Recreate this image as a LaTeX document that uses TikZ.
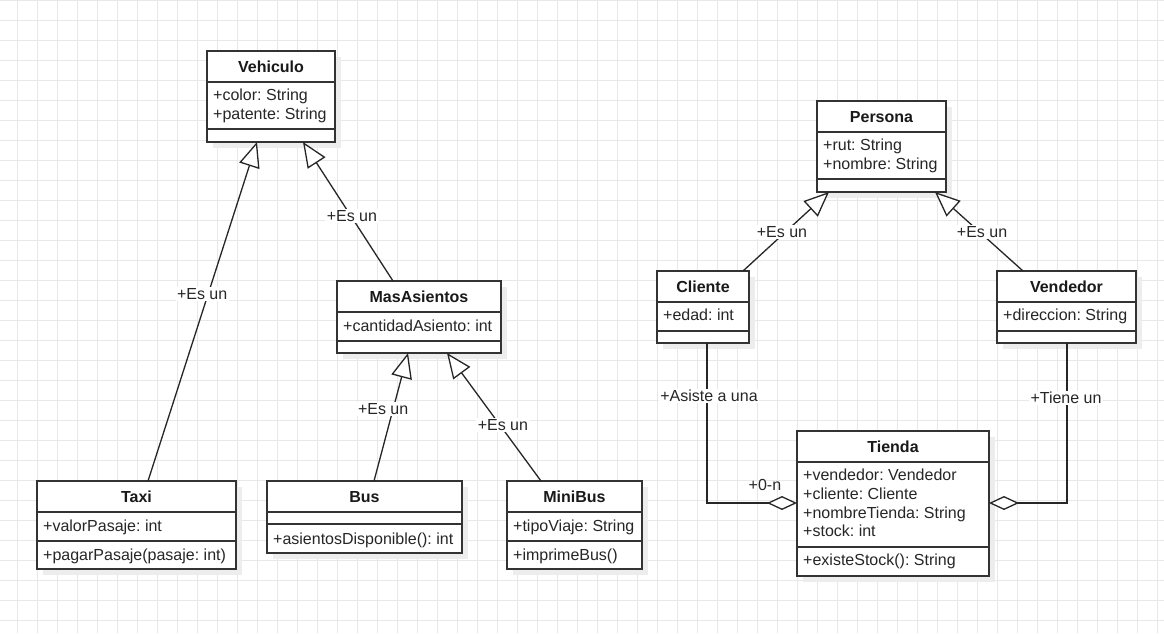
\documentclass[tikz,border=0pt]{standalone}
\usepackage{fontspec}
\setmainfont{Liberation Sans}
\frenchspacing
\usetikzlibrary{arrows.meta,calc}
\tikzset{
  gridline/.style={draw=black!9, line width=1pt},
  clsbox/.style={draw=black!80, line width=1.3pt, fill=white, inner sep=0pt, outer sep=0pt},
  sepline/.style={draw=black!80, line width=1.3pt},
  shadowc/.style={fill=black!7},
  ttl/.style={font=\frenchspacing\bfseries\fontsize{16}{19}\selectfont, text=black!90, inner sep=0pt, text height=11.5pt, text depth=0pt},
  attr/.style={font=\frenchspacing\fontsize{16}{19}\selectfont, text=black!85, anchor=west, inner sep=0pt, text height=11.5pt, text depth=0pt},
  conn/.style={draw=black!85, line width=1.3pt},
  gen/.style={conn, -{Triangle[length=25pt,width=21pt,fill=white]}},
  agg/.style={conn, -{Diamond[length=30pt,width=14pt,fill=white]}},
  lbl/.style={font=\frenchspacing\fontsize{16}{19}\selectfont, fill=white, inner sep=1.5pt, text=black!85, text height=11.5pt, text depth=0pt},
  lblnf/.style={font=\frenchspacing\fontsize{16}{19}\selectfont, inner sep=1.5pt, text=black!85, text height=11.5pt, text depth=0pt},
}
\newcommand{\clsbox}[5]{%
  \fill[shadowc] (#2+6,#3+6) rectangle ++(#4,#5);
  \node[clsbox, minimum width=#4pt, minimum height=#5pt, anchor=north west] (#1) at (#2,#3) {};
}
\newcommand{\sepl}[2]{%
  \draw[sepline] ($(#1.north west)+(0,#2)$) -- ($(#1.north east)+(0,#2)$);
}
\newcommand{\ttlnode}[2]{%
  \node[ttl] at ($(#1.north)+(0,15.5)$) {#2};
}
\newcommand{\attrnode}[3]{%
  \node[attr] at ($(#1.north west)+(6,#2)$) {#3};
}
\begin{document}
\begin{tikzpicture}[x=1pt,y=-1pt]
\useasboundingbox (0,0) rectangle (1164,633);
\fill[white] (0,0) rectangle (1164,633);
\foreach \x in {17,37,...,1164} \draw[gridline] (\x,0) -- (\x,633);
\foreach \y in {0,20,...,633} \draw[gridline] (0,\y) -- (1164,\y);

% Vehiculo
\clsbox{veh}{207}{51}{128}{91}
\sepl{veh}{31}\sepl{veh}{78}
\ttlnode{veh}{Vehiculo}
\attrnode{veh}{44}{+color: String}
\attrnode{veh}{63}{+patente: String}

% MasAsientos
\clsbox{mas}{337}{281}{164}{72}
\sepl{mas}{31}\sepl{mas}{60}
\ttlnode{mas}{MasAsientos}
\attrnode{mas}{45}{+cantidadAsiento: int}

% Taxi
\clsbox{taxi}{37}{481}{199}{88}
\sepl{taxi}{31}\sepl{taxi}{60}
\ttlnode{taxi}{Taxi}
\attrnode{taxi}{45}{+valorPasaje: int}
\attrnode{taxi}{74}{+pagarPasaje(pasaje: int)}

% Bus
\clsbox{bus}{267}{481}{195}{72}
\sepl{bus}{31}\sepl{bus}{43}
\ttlnode{bus}{Bus}
\attrnode{bus}{58}{+asientosDisponible(): int}

% MiniBus
\clsbox{mini}{507}{481}{135}{88}
\sepl{mini}{31}\sepl{mini}{60}
\ttlnode{mini}{MiniBus}
\attrnode{mini}{45}{+tipoViaje: String}
\attrnode{mini}{74}{+imprimeBus()}

% Persona
\clsbox{per}{817}{101}{129}{91}
\sepl{per}{31}\sepl{per}{78}
\ttlnode{per}{Persona}
\attrnode{per}{44}{+rut: String}
\attrnode{per}{63}{+nombre: String}

% Cliente
\clsbox{cli}{657}{271}{92}{72}
\sepl{cli}{31}\sepl{cli}{60}
\ttlnode{cli}{Cliente}
\attrnode{cli}{44}{+edad: int}

% Vendedor
\clsbox{ven}{997}{271}{139}{72}
\sepl{ven}{31}\sepl{ven}{60}
\ttlnode{ven}{Vendedor}
\attrnode{ven}{44}{+direccion: String}

% Tienda
\clsbox{tie}{797}{431}{192}{145}
\sepl{tie}{31}\sepl{tie}{116}
\ttlnode{tie}{Tienda}
\attrnode{tie}{44}{+vendedor: Vendedor}
\attrnode{tie}{63}{+cliente: Cliente}
\attrnode{tie}{82}{+nombreTienda: String}
\attrnode{tie}{100}{+stock: int}
\attrnode{tie}{129}{+existeStock(): String}

% Generalizations
\draw[gen] ($(taxi.north west)+(111,0)$) -- node[lbl,pos=0.552,xshift=-6pt]{+Es un} ($(veh.south west)+(50,0)$);
\draw[gen] ($(mas.north west)+(56,0)$) -- node[lbl,pos=0.468,xshift=1pt]{+Es un} ($(veh.south west)+(96,0)$);
\draw[gen] ($(bus.north west)+(107,0)$) -- node[lbl,pos=0.5625,xshift=-10pt]{+Es un} ($(mas.south west)+(71,0)$);
\draw[gen] ($(mini.north west)+(34,0)$) -- node[lbl,pos=0.4375,xshift=3pt]{+Es un} ($(mas.south west)+(110,0)$);
\draw[gen] ($(cli.north west)+(86,0)$) -- node[lbl,pos=0.494,xshift=-3.5pt]{+Es un} ($(per.south west)+(12,0)$);
\draw[gen] ($(ven.north west)+(26,0)$) -- node[lbl,pos=0.494,xshift=2.5pt]{+Es un} ($(per.south west)+(118,0)$);

% Aggregations
\draw[agg] ($(cli.south west)+(50,0)$) |- node[lbl,pos=0.166,xshift=2pt]{+Asiste a una} node[lblnf,pos=0.822,yshift=18pt]{+0-n} ($(tie.north west)+(0,72)$);
\draw[agg] ($(ven.south west)+(70,0)$) |- node[lbl,pos=0.172,xshift=-1pt]{+Tiene un} ($(tie.north east)+(0,72)$);
\end{tikzpicture}
\end{document}
